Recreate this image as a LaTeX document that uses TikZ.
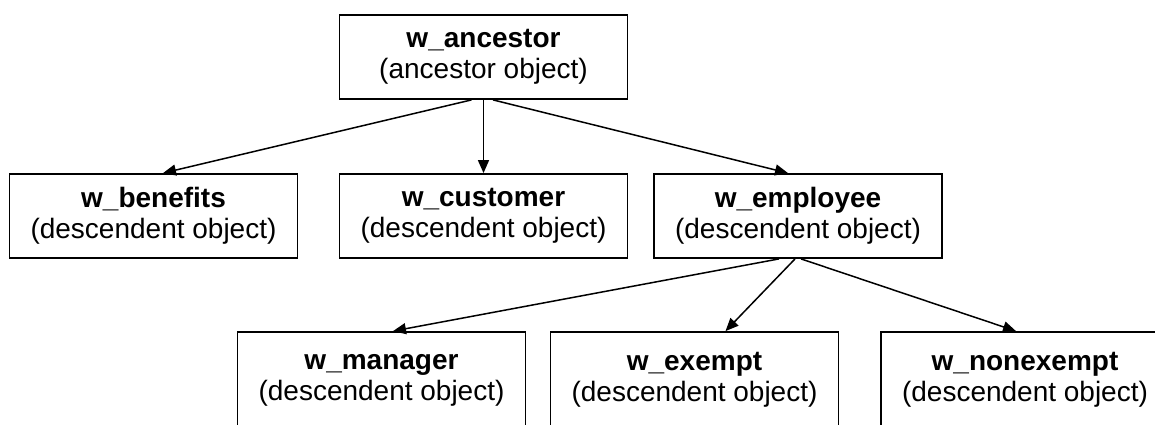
\documentclass[tikz,border=0pt]{standalone}
\usepackage{fontspec}
\setmainfont{Liberation Sans}
\usetikzlibrary{arrows.meta}
\begin{document}
\begin{tikzpicture}[x=1pt, y=-1pt,
    objbox/.style={draw, line width=1.8pt, rectangle, align=center,
        minimum width=288pt, minimum height=84pt, inner sep=0pt,
        font=\fontsize{28}{31}\selectfont},
    lowbox/.style={objbox, minimum height=96pt},
    link/.style={line width=1.5pt, -{Triangle[length=13pt, width=11pt]}}]
    % Canvas
    \useasboundingbox (0,0) rectangle (1155,425);
    \clip (0,0) rectangle (1155,425);

    % Ancestor
    \node[objbox] (anc) at (483.5,57) {\textbf{w\_ancestor}\\(ancestor object)};

    % First level descendents
    \node[objbox] (ben) at (153.5,216) {\textbf{w\_benefits}\\(descendent object)};
    \node[objbox] (cus) at (483.5,216) {\textbf{w\_customer}\\(descendent object)};
    \node[objbox] (emp) at (798,216) {\textbf{w\_employee}\\(descendent object)};

    % Second level descendents
    \node[lowbox] (man) at (381.5,380) {\textbf{w\_manager}\\(descendent object)};
    \node[lowbox] (exe) at (694.5,380) {\textbf{w\_exempt}\\(descendent object)};
    \node[lowbox] (non) at (1025,380) {\textbf{w\_nonexempt}\\(descendent object)};

    % Inheritance arrows
    \draw[link] ([xshift=-12pt]anc.south) -- ([xshift=9.5pt]ben.north);
    \draw[link] (anc.south) -- (cus.north);
    \draw[link] ([xshift=9.5pt]anc.south) -- ([xshift=-10pt]emp.north);

    \draw[link] ([xshift=-19pt]emp.south) -- ([xshift=11.5pt]man.north);
    \draw[link] ([xshift=-3pt]emp.south) -- ([xshift=31pt]exe.north);
    \draw[link] ([xshift=3pt]emp.south) -- ([xshift=-9pt]non.north);

\end{tikzpicture}
\end{document}
